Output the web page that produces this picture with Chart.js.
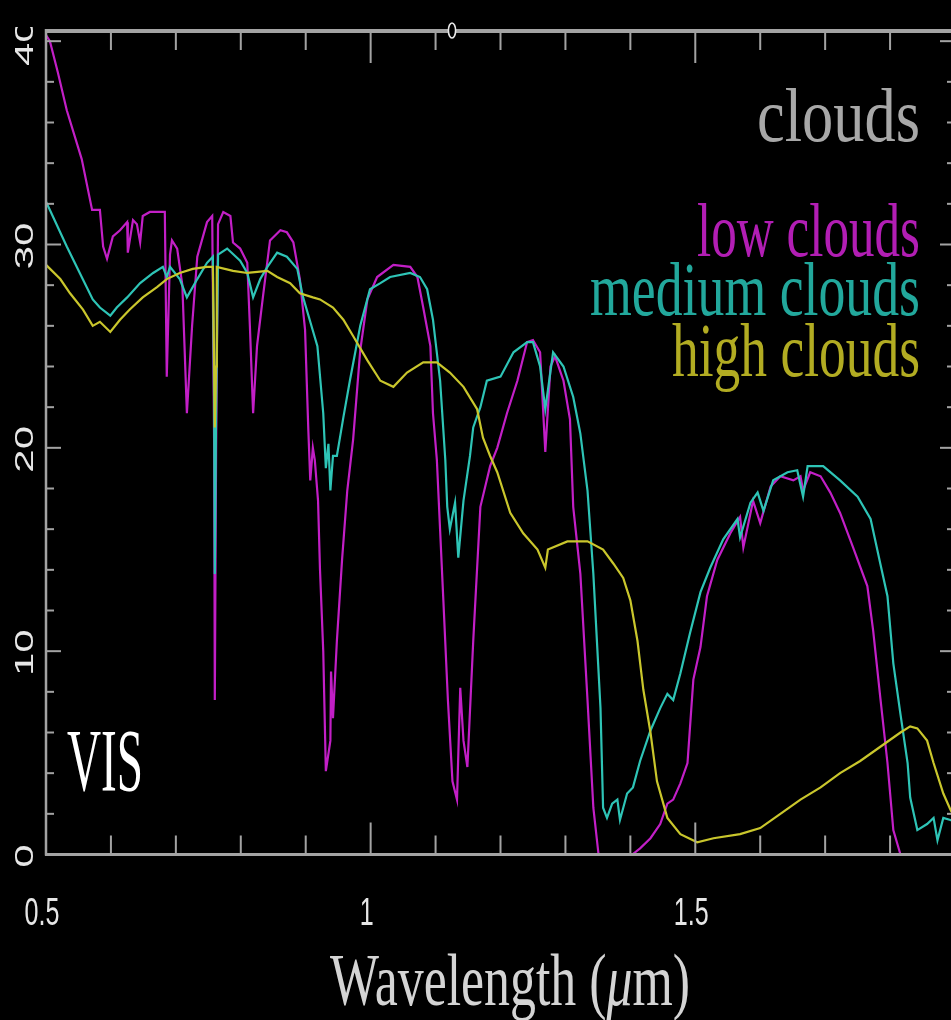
<!DOCTYPE html>
<html>
<head>
<meta charset="utf-8">
<script src="https://cdn.jsdelivr.net/npm/chart.js@4/dist/chart.umd.min.js"></script>
<style>
  html, body { margin: 0; padding: 0; background: #000; overflow: hidden; width: 951px; height: 1020px; }
  #wrap { position: absolute; left: 0; top: 0; width: 960px; height: 1020px; }
</style>
</head>
<body>
<div id="wrap"><canvas id="c" width="960" height="1020"></canvas></div>
<script>
// Spectral curves: [wavelength (µm), value]
const lowClouds = [
  [0.500,40.3],[0.506,40.0],[0.518,38.5],[0.532,36.6],[0.555,34.2],[0.571,31.7],[0.583,31.7],[0.588,29.9],
  [0.594,29.3],[0.603,30.4],[0.614,30.7],[0.625,31.1],[0.626,29.6],[0.634,31.2],[0.640,31.0],[0.645,30.1],
  [0.649,31.4],[0.660,31.6],[0.683,31.6],[0.686,23.5],[0.691,29.5],[0.694,30.2],[0.702,29.8],[0.710,28.0],
  [0.717,21.7],[0.725,26.0],[0.733,29.4],[0.748,31.1],[0.756,31.4],[0.759,20.0],[0.760,7.6],[0.762,20.0],
  [0.765,31.0],[0.773,31.6],[0.784,31.4],[0.788,30.1],[0.799,29.8],[0.810,29.1],[0.814,26.0],[0.819,21.7],
  [0.825,25.0],[0.834,27.4],[0.845,30.2],[0.861,30.7],[0.871,30.6],[0.881,30.1],[0.891,28.3],[0.899,25.8],
  [0.904,20.9],[0.907,18.4],[0.911,20.0],[0.914,19.4],[0.919,17.4],[0.922,14.0],[0.927,10.0],[0.931,4.1],
  [0.938,5.6],[0.939,9.0],[0.942,6.7],[0.948,10.5],[0.956,14.5],[0.964,17.9],[0.973,20.4],[0.984,24.8],
  [0.995,27.3],[1.010,28.4],[1.035,29.0],[1.061,28.9],[1.072,28.4],[1.081,26.9],[1.092,25.0],[1.096,21.7],
  [1.102,19.4],[1.112,12.5],[1.119,7.6],[1.126,3.6],[1.133,2.7],[1.138,8.2],[1.143,5.6],[1.149,4.3],
  [1.158,10.5],[1.169,17.1],[1.184,19.1],[1.195,20.0],[1.210,21.7],[1.226,23.3],[1.241,25.2],[1.250,25.3],
  [1.261,24.7],[1.269,19.8],[1.277,24.0],[1.284,24.5],[1.297,23.3],[1.307,21.4],[1.312,17.1],[1.323,13.8],
  [1.334,7.6],[1.343,2.3],[1.351,0.0],[1.403,0.0],[1.415,0.3],[1.431,0.8],[1.446,1.5],[1.457,2.5],
  [1.466,2.7],[1.477,3.5],[1.488,4.5],[1.497,8.6],[1.508,10.2],[1.518,12.7],[1.534,14.5],[1.554,15.8],
  [1.569,16.6],[1.574,15.1],[1.589,17.4],[1.600,16.3],[1.616,18.1],[1.631,18.6],[1.651,18.4],[1.662,18.6],
  [1.666,17.9],[1.677,18.8],[1.693,18.6],[1.708,17.8],[1.723,16.8],[1.743,15.1],[1.765,13.2],[1.774,11.0],
  [1.785,7.7],[1.796,4.5],[1.805,1.2],[1.816,0.0],[1.900,0.0]
];

const mediumClouds = [
  [0.500,32.1],[0.506,31.7],[0.532,29.9],[0.552,28.6],[0.572,27.3],[0.583,26.9],[0.599,26.5],[0.609,26.9],
  [0.625,27.4],[0.645,28.1],[0.665,28.6],[0.680,28.9],[0.686,28.4],[0.691,28.9],[0.706,28.3],[0.717,27.4],
  [0.733,28.3],[0.748,29.1],[0.757,29.4],[0.759,22.0],[0.760,13.8],[0.762,22.0],[0.765,29.5],[0.779,29.8],
  [0.799,29.2],[0.810,28.6],[0.819,27.4],[0.830,28.3],[0.841,28.9],[0.856,29.6],[0.871,29.4],[0.887,28.8],
  [0.896,27.4],[0.907,26.2],[0.918,25.0],[0.927,21.7],[0.931,19.0],[0.935,20.2],[0.938,17.9],[0.942,19.6],
  [0.948,19.6],[0.958,21.5],[0.968,23.3],[0.984,26.0],[0.999,27.8],[1.015,28.1],[1.030,28.4],[1.061,28.6],
  [1.076,28.4],[1.087,27.8],[1.096,26.3],[1.107,23.3],[1.115,19.4],[1.118,17.1],[1.122,16.0],[1.130,17.3],
  [1.135,14.6],[1.143,17.4],[1.153,19.6],[1.158,21.0],[1.169,22.0],[1.179,23.3],[1.200,23.5],[1.220,24.7],
  [1.241,25.2],[1.250,25.2],[1.261,24.0],[1.269,21.9],[1.281,24.7],[1.297,24.0],[1.312,22.5],[1.323,20.7],
  [1.334,17.9],[1.343,13.8],[1.354,7.2],[1.358,2.3],[1.364,1.8],[1.372,2.5],[1.380,2.7],[1.384,1.7],
  [1.395,3.0],[1.404,3.3],[1.415,4.6],[1.431,6.1],[1.446,7.2],[1.457,7.9],[1.466,7.6],[1.477,8.9],
  [1.492,10.9],[1.508,12.9],[1.523,14.1],[1.543,15.5],[1.565,16.5],[1.569,15.6],[1.585,17.3],[1.596,17.8],
  [1.605,16.9],[1.620,18.4],[1.642,18.8],[1.657,18.9],[1.666,17.6],[1.673,19.1],[1.697,19.1],[1.723,18.4],
  [1.750,17.6],[1.770,16.5],[1.785,14.3],[1.796,12.7],[1.805,9.4],[1.816,6.9],[1.827,4.5],[1.831,2.8],
  [1.842,1.2],[1.857,1.5],[1.867,1.8],[1.873,0.7],[1.882,1.8],[1.893,1.7],[1.900,1.6]
];

const highClouds = [
  [0.500,29.0],[0.522,28.3],[0.537,27.6],[0.557,26.8],[0.572,26.0],[0.583,26.2],[0.599,25.7],[0.614,26.3],
  [0.629,26.8],[0.649,27.4],[0.671,27.9],[0.686,28.3],[0.706,28.6],[0.726,28.8],[0.748,28.9],[0.757,28.9],
  [0.759,24.0],[0.760,21.0],[0.762,24.0],[0.763,28.9],[0.788,28.7],[0.810,28.6],[0.841,28.7],[0.856,28.4],
  [0.876,28.1],[0.891,27.6],[0.911,27.4],[0.922,27.3],[0.942,26.9],[0.958,26.3],[0.973,25.5],[0.995,24.3],
  [1.015,23.3],[1.035,23.0],[1.056,23.7],[1.081,24.2],[1.102,24.2],[1.122,23.7],[1.143,23.0],[1.164,21.9],
  [1.173,20.5],[1.184,19.6],[1.195,18.8],[1.215,16.8],[1.235,15.8],[1.257,15.0],[1.269,14.1],[1.273,15.0],
  [1.303,15.4],[1.334,15.4],[1.358,15.0],[1.374,14.3],[1.389,13.6],[1.400,12.5],[1.411,10.5],[1.420,8.1],
  [1.431,6.0],[1.441,3.6],[1.457,1.8],[1.477,1.0],[1.503,0.6],[1.528,0.8],[1.569,1.0],[1.600,1.3],
  [1.631,2.0],[1.662,2.7],[1.693,3.3],[1.723,4.0],[1.754,4.6],[1.785,5.3],[1.816,6.0],[1.831,6.3],
  [1.842,6.2],[1.857,5.6],[1.867,4.5],[1.882,3.0],[1.893,2.2],[1.900,1.8]
];

const seriesNames = ['low clouds', 'medium clouds', 'high clouds'];
const xTickValues = [0.5, 1, 1.5];
const xTickLabels = ['0.5', '1', '1.5'];
const yTickValues = [0, 10, 20, 30, 40];
const yTickLabels = ['0', '10', '20', '30', '40'];

const LOW_LINE = '#c21fc6', MED_LINE = '#2ec4b6', HIGH_LINE = '#c9c62c';
const LOW_TEXT = '#b21eb4', MED_TEXT = '#22a89c', HIGH_TEXT = '#b2ac22';
const AXIS = '#a3a3a3';
const SERIF = '"Liberation Serif", "DejaVu Serif", serif';
const SANS = '"Liberation Sans", Arial, sans-serif';

const toPoints = arr => arr.map(p => ({ x: p[0], y: p[1] }));

function seg(ctx, x1, y1, x2, y2, w) {
  ctx.lineWidth = w;
  ctx.beginPath(); ctx.moveTo(x1, y1); ctx.lineTo(x2, y2); ctx.stroke();
}

// Draw a run of text pieces squeezed horizontally into a given width
function fitText(ctx, parts, x, baseline, width, color, alignRight) {
  let total = 0;
  parts.forEach(p => { ctx.font = p.font; p.w = ctx.measureText(p.t).width; total += p.w; });
  const sx = width / total;
  ctx.save();
  ctx.translate(alignRight ? x - width : x, baseline);
  ctx.scale(sx, 1);
  ctx.fillStyle = color;
  ctx.textAlign = 'left';
  ctx.textBaseline = 'alphabetic';
  let cx = 0;
  parts.forEach(p => { ctx.font = p.font; ctx.fillText(p.t, cx, 0); cx += p.w; });
  ctx.restore();
}

const frame = {
  id: 'frame',
  beforeDraw(chart) {
    const ctx = chart.ctx;
    ctx.save(); ctx.fillStyle = '#000'; ctx.fillRect(0, 0, chart.width, chart.height); ctx.restore();
  },
  afterDraw(chart) {
    const { ctx, chartArea: a, scales: { x, y } } = chart;
    ctx.save();
    ctx.strokeStyle = AXIS;
    ctx.lineCap = 'butt';

    // box
    seg(ctx, a.left, a.top, a.right, a.top, 4);
    seg(ctx, a.left - 1, a.bottom, a.right, a.bottom, 3);
    seg(ctx, a.left, a.top - 2, a.left, a.bottom + 1, 2.5);
    seg(ctx, a.right, a.top, a.right, a.bottom, 2.5);

    // inward ticks, wavelength axis
    for (let i = 1; i <= 13; i++) {
      const v = 0.5 + i * 0.1;
      const major = Math.abs(v * 2 - Math.round(v * 2)) < 1e-6;
      const px = x.getPixelForValue(v);
      const len = major ? 32 : 19;
      seg(ctx, px, a.top, px, a.top + len, 2);
      seg(ctx, px, a.bottom, px, a.bottom - len, 2);
    }
    // inward ticks, value axis
    for (let v = 2; v <= 40; v += 2) {
      const major = v % 10 === 0;
      const py = y.getPixelForValue(v);
      const len = major ? 15 : 8;
      seg(ctx, a.left, py, a.left + len, py, 2);
      seg(ctx, a.right, py, a.right - len, py, 2);
    }

    // small marker on the top edge
    ctx.fillStyle = '#000';
    ctx.strokeStyle = '#e8e8e8';
    ctx.lineWidth = 1.6;
    ctx.beginPath(); ctx.ellipse(452, 30.5, 3.6, 7.5, 0, 0, Math.PI * 2); ctx.fill(); ctx.stroke();

    // x tick labels
    ctx.fillStyle = '#e6e6e6';
    ctx.font = '38px ' + SANS;
    ctx.textAlign = 'center';
    ctx.textBaseline = 'alphabetic';
    xTickValues.forEach((v, i) => {
      const px = x.getPixelForValue(v) - 4;
      ctx.save(); ctx.translate(px, 925); ctx.scale(0.66, 1);
      ctx.fillText(xTickLabels[i], 0, 0);
      ctx.restore();
    });

    // y tick labels, rotated
    ctx.save();
    ctx.beginPath(); ctx.rect(0, 27, 46, 1000); ctx.clip();
    ctx.font = '42px ' + SANS;
    ctx.textAlign = 'center';
    yTickValues.forEach((v, i) => {
      const py = y.getPixelForValue(v) + 1.5;
      ctx.save(); ctx.translate(24, py); ctx.scale(0.62, 1); ctx.rotate(-Math.PI / 2);
      ctx.fillText(yTickLabels[i], 0, 15);
      ctx.restore();
    });
    ctx.restore();

    // key
    const big = '77px ' + SERIF;
    fitText(ctx, [{ t: 'clouds', font: big }], 920, 141, 163, '#a8a8a8', true);
    fitText(ctx, [{ t: seriesNames[0], font: big }], 920, 256, 223, LOW_TEXT, true);
    fitText(ctx, [{ t: seriesNames[1], font: big }], 920, 315, 330, MED_TEXT, true);
    fitText(ctx, [{ t: seriesNames[2], font: big }], 920, 376, 248, HIGH_TEXT, true);

    // band tag
    fitText(ctx, [{ t: 'VIS', font: '88px ' + SERIF }], 67, 790, 76, '#ffffff', false);

    // axis title
    fitText(ctx, [
      { t: 'Wavelength (', font: '75px ' + SERIF },
      { t: 'μ', font: 'italic 75px ' + SERIF },
      { t: 'm)', font: '75px ' + SERIF }
    ], 330, 1005, 360, '#d4d4d4', false);

    ctx.restore();
  }
};

new Chart(document.getElementById('c'), {
  type: 'line',
  data: {
    datasets: [
      { label: seriesNames[2], data: toPoints(highClouds), borderColor: HIGH_LINE, order: 0 },
      { label: seriesNames[1], data: toPoints(mediumClouds), borderColor: MED_LINE, order: 1 },
      { label: seriesNames[0], data: toPoints(lowClouds), borderColor: LOW_LINE, order: 2 }
    ]
  },
  options: {
    responsive: false,
    animation: false,
    devicePixelRatio: 1,
    layout: { padding: { left: 46, top: 31, right: 5, bottom: 165.5 } },
    scales: {
      x: { type: 'linear', min: 0.5, max: 1.9, display: false },
      y: { type: 'linear', min: 0, max: 40.5, display: false }
    },
    elements: {
      point: { radius: 0 },
      line: { borderWidth: 2.2, tension: 0, fill: false }
    },
    datasets: { line: { clip: { left: 0, top: 0, right: 0, bottom: 4 } } },
    plugins: { legend: { display: false }, tooltip: { enabled: false } }
  },
  plugins: [frame]
});
</script>
</body>
</html>
